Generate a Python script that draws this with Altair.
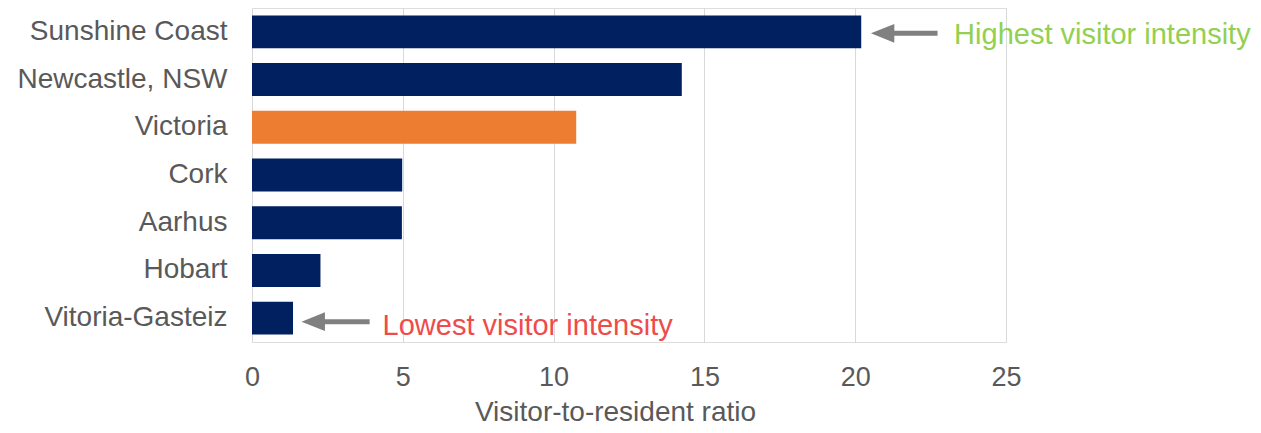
import altair as alt
import pandas as pd

# ---- data ----
cities = ["Sunshine Coast", "Newcastle, NSW", "Victoria", "Cork", "Aarhus", "Hobart", "Vitoria-Gasteiz"]
ratios = [20.2, 14.25, 10.75, 4.98, 4.97, 2.27, 1.36]
bar_colors = ["#002060", "#002060", "#ED7D31", "#002060", "#002060", "#002060", "#002060"]
x_ticks = [0, 5, 10, 15, 20, 25]

note_city = ["Sunshine Coast", "Vitoria-Gasteiz"]
note_text = ["Highest visitor intensity", "Lowest visitor intensity"]
note_color = ["#92D050", "#EE4B4B"]
note_x = [23.28, 4.33]
arrow_tip = [20.52, 1.64]
arrow_end = [22.73, 3.90]
note_dy = [3.6, 7.8]
arrow_dy = [1.4, 3.6]

FONT = "Liberation Sans"
GRAY = "#595959"

bars_df = pd.DataFrame({"city": cities, "ratio": ratios, "color": bar_colors})


def y_enc():
    return alt.Y(
        "city:N",
        sort=cities,
        scale=alt.Scale(domain=cities, paddingInner=0.31, paddingOuter=0.155),
        axis=alt.Axis(
            title=None, domain=False, ticks=False, tickSize=0, grid=False,
            labelFontSize=28, labelColor=GRAY, labelPadding=25, labelFont=FONT,
            labelLimit=0,
        ),
    )


x_scale = alt.Scale(domain=[0, 25], nice=False)

bars = alt.Chart(bars_df).mark_bar().encode(
    x=alt.X(
        "ratio:Q",
        scale=x_scale,
        axis=alt.Axis(
            values=x_ticks, grid=True, gridColor="#D9D9D9", gridWidth=1,
            domain=False, ticks=False, tickSize=0, labelFlush=False,
            labelFontSize=27, labelColor=GRAY, labelPadding=22, labelFont=FONT,
            title="Visitor-to-resident ratio", titleFontSize=28, titleColor=GRAY,
            titleFont=FONT, titleFontWeight="normal", titleBaseline="alphabetic",
            titleY=78, titleX=363, titleAlign="center",
        ),
    ),
    y=y_enc(),
    color=alt.Color("color:N", scale=None),
)

layers = [bars]
for i in range(len(note_city)):
    adf = pd.DataFrame({
        "city": [note_city[i]],
        "tip": [arrow_tip[i]],
        "shaft_start": [arrow_tip[i] + 0.5],
        "end": [arrow_end[i]],
        "nx": [note_x[i]],
        "label": [note_text[i]],
    })
    shaft = alt.Chart(adf).mark_rule(
        color="#808080", strokeWidth=5, strokeCap="butt", yOffset=arrow_dy[i]
    ).encode(
        x=alt.X("shaft_start:Q", scale=x_scale),
        x2="end:Q",
        y=y_enc(),
    )
    head = alt.Chart(adf).mark_point(
        shape="M 0 0 L 2 -0.8 L 2 0.8 Z", size=550, filled=True,
        color="#808080", opacity=1, yOffset=arrow_dy[i],
    ).encode(
        x=alt.X("tip:Q", scale=x_scale),
        y=y_enc(),
    )
    txt = alt.Chart(adf).mark_text(
        align="left", baseline="middle", fontSize=29, font=FONT,
        color=note_color[i], dy=note_dy[i],
    ).encode(
        x=alt.X("nx:Q", scale=x_scale),
        y=y_enc(),
        text="label:N",
    )
    layers += [shaft, head, txt]

chart = alt.layer(*layers).properties(
    width=754,
    height=334,
    autosize=alt.AutoSizeParams(type="none"),
    padding={"left": 244, "top": 0, "right": 247, "bottom": 83},
).configure_view(stroke=None).configure(font=FONT)

chart.save("out.html", embed_options={"renderer": "svg", "actions": False})
